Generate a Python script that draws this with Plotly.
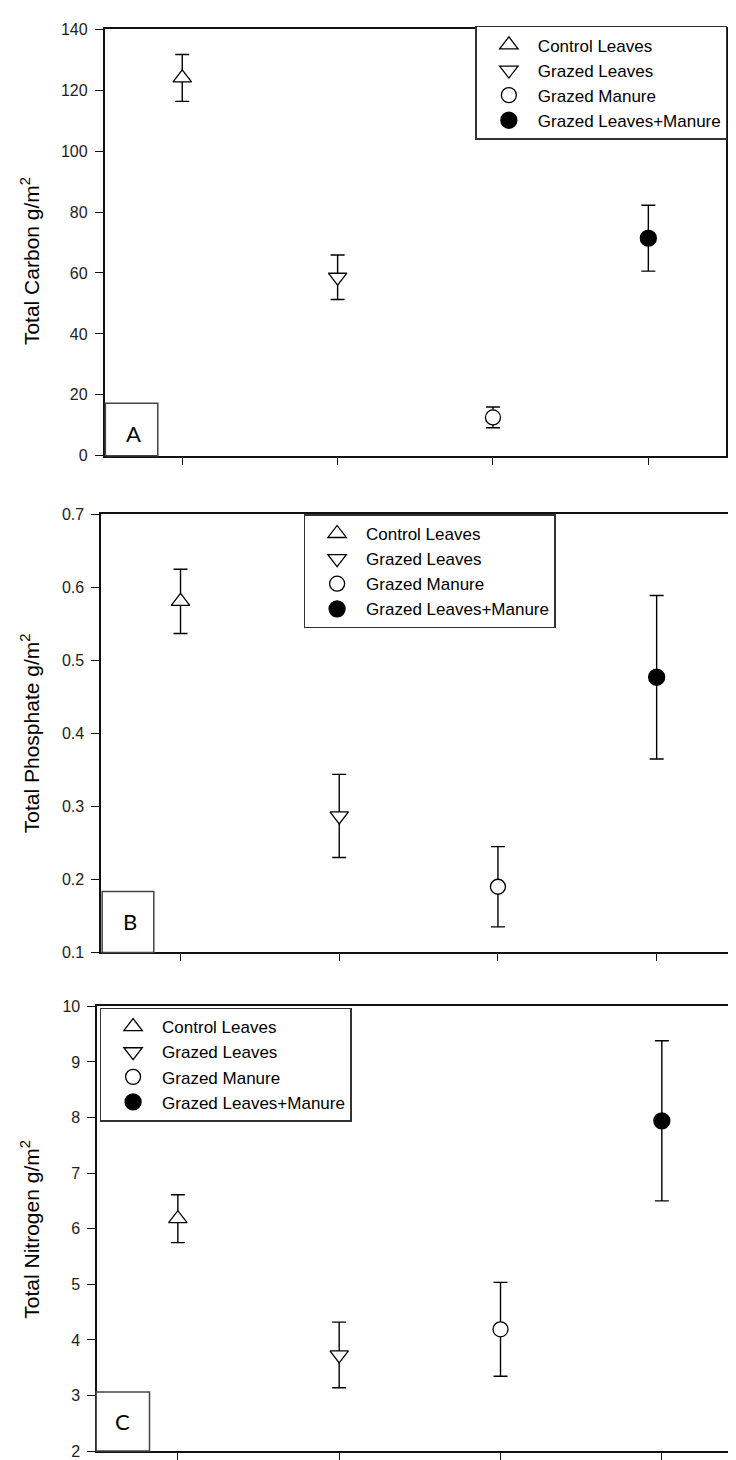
import plotly.graph_objects as go

# ---------------- data ----------------
categories = ["Control Leaves", "Grazed Leaves", "Grazed Manure", "Grazed Leaves+Manure"]
x_pos = [1, 2, 3, 4]

carbon_mean = [124.0, 58.6, 12.6, 71.4]
carbon_err = [7.7, 7.3, 3.4, 10.8]

phosphate_mean = [0.581, 0.287, 0.190, 0.477]
phosphate_err = [0.044, 0.057, 0.055, 0.112]

nitrogen_mean = [6.18, 3.73, 4.19, 7.94]
nitrogen_err = [0.43, 0.59, 0.845, 1.44]

carbon_ticks = [0, 20, 40, 60, 80, 100, 120, 140]
phosphate_ticks = [0.1, 0.2, 0.3, 0.4, 0.5, 0.6, 0.7]
nitrogen_ticks = [2, 3, 4, 5, 6, 7, 8, 9, 10]

panel_letters = ["A", "B", "C"]
y_titles = ["Total Carbon g/m<sup>2</sup>", "Total Phosphate g/m<sup>2</sup>", "Total Nitrogen g/m<sup>2</sup>"]

# ---------------- styling ----------------
W, H = 736, 1460
FONT = "Liberation Sans, Arial, sans-serif"
symbols = ["triangle-up", "triangle-down", "circle", "circle"]
fills = ["white", "white", "white", "black"]
sizes = [16, 16, 15, 16]


def fx(px):
    return px / W


def fy(py):
    return 1 - py / H


panels = [
    dict(mean=carbon_mean, err=carbon_err, ticks=carbon_ticks, rng=[0, 140],
         xpx=(96.7, 719.0), ypx=(13.3, 445.0), legend="legend",
         leg=(468, 10), box=(97.5, 150, 391.7, 445), lab=(125.8, 422.7), title_y=248),
    dict(mean=phosphate_mean, err=phosphate_err, ticks=phosphate_ticks, rng=[0.1, 0.7],
         xpx=(93.3, 729.0), ypx=(504.3, 947.5), legend="legend2",
         leg=(296, 504.3), box=(94.3, 146, 885.7, 947.5), lab=(121.7, 915.7), title_y=725.7),
    dict(mean=nitrogen_mean, err=nitrogen_err, ticks=nitrogen_ticks, rng=[2, 10],
         xpx=(89.3, 735.5), ypx=(1002.0, 1452.0), legend="legend3",
         leg=(91.7, 1003.3), box=(88.3, 141.7, 1392.3, 1452), lab=(115.0, 1421.7), title_y=1227),
]

fig = go.Figure()
layout = dict(width=W, height=H, margin=dict(l=0, r=0, t=0, b=0),
              paper_bgcolor="white", plot_bgcolor="white",
              font=dict(family=FONT, color="black"), shapes=[], annotations=[])

for p_i, p in enumerate(panels):
    suffix = "" if p_i == 0 else str(p_i + 1)
    xa, ya = "x" + suffix, "y" + suffix
    for i, cat in enumerate(categories):
        fig.add_trace(go.Scatter(
            x=[x_pos[i]], y=[p["mean"][i]], mode="markers", name=cat,
            xaxis=xa, yaxis=ya, legend=p["legend"],
            marker=dict(symbol=symbols[i], size=sizes[i], color=fills[i],
                        line=dict(color="black", width=1.3)),
            error_y=dict(type="data", array=[p["err"][i]], visible=True,
                         color="black", thickness=1.4, width=7),
        ))
    axis_common = dict(showline=True, linecolor="#111", linewidth=1.5, mirror=True,
                       ticks="outside", tickcolor="#111", tickwidth=1.3,
                       showgrid=False, zeroline=False)
    layout["xaxis" + suffix] = dict(axis_common, domain=[fx(p["xpx"][0]), fx(p["xpx"][1])],
                                    anchor=ya, range=[0.5, 4.5], tickvals=x_pos,
                                    showticklabels=False, ticklen=7)
    layout["yaxis" + suffix] = dict(axis_common, domain=[fy(p["ypx"][1]), fy(p["ypx"][0])],
                                    anchor=xa, range=p["rng"], tickvals=p["ticks"],
                                    ticktext=[("%g" % t) for t in p["ticks"]], ticklen=8,
                                    ticklabelstandoff=4,
                                    tickfont=dict(size=16, family=FONT, color="#222"))
    layout[p["legend"]] = dict(x=fx(p["leg"][0]), y=fy(p["leg"][1]), xanchor="left", yanchor="top",
                               bgcolor="white", bordercolor="#333", borderwidth=1.5,
                               font=dict(size=17, family=FONT, color="black"),
                               itemwidth=48, indentation=3)
    b = p["box"]
    layout["shapes"].append(dict(type="rect", xref="paper", yref="paper",
                                 x0=fx(b[0]), x1=fx(b[1]), y0=fy(b[3]), y1=fy(b[2]),
                                 line=dict(color="#444", width=1.5), fillcolor="white", layer="above"))
    layout["annotations"].append(dict(text=panel_letters[p_i], xref="paper", yref="paper",
                                      x=fx(p["lab"][0]), y=fy(p["lab"][1]), showarrow=False,
                                      xanchor="center", yanchor="middle",
                                      font=dict(size=22, family="Lato, Open Sans, sans-serif", color="black")))
    layout["annotations"].append(dict(text=y_titles[p_i], xref="paper", yref="paper",
                                      x=fx(22), y=fy(p["title_y"]), showarrow=False, textangle=-90,
                                      xanchor="center", yanchor="middle",
                                      font=dict(size=21, family=FONT, color="black")))

fig.update_layout(**layout)
fig.write_html("out.html")
